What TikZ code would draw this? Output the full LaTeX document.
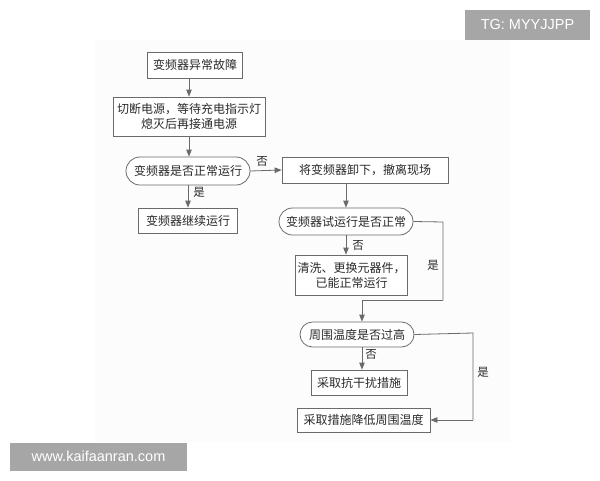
\documentclass[tikz,border=0pt]{standalone}
\usepackage{fontspec}
\setmainfont{Liberation Sans}
\newfontfamily\cjk{Noto Sans CJK SC}
\usepackage{tikz}
\usetikzlibrary{shapes.misc,arrows.meta}

\definecolor{linegray}{HTML}{6A6A6A}
\definecolor{textgray}{HTML}{2A2A2A}
\definecolor{markgray}{HTML}{A6A6A6}
\tikzset{
  box/.style={draw=linegray, line width=0.8pt, fill=white, text=textgray, font=\cjk\fontsize{12}{15}\selectfont, inner sep=2pt, align=center},
  stadium/.style={box, rounded rectangle},
  arr/.style={draw=linegray, line width=0.8pt, -{Triangle[length=7pt,width=5.5pt]}},
  lbl/.style={text=textgray, font=\cjk\fontsize{11.5}{13}\selectfont, inner sep=1pt},
  stamp/.style={fill=markgray, text=white, font=\fontsize{14.5}{16}\selectfont}
}

\begin{document}
\begin{tikzpicture}[x=1pt,y=-1pt]
\useasboundingbox (0,0) rectangle (600,480);
\fill[black!1] (95,40) rectangle (510,442);

% flow chart
\node[box, minimum width=95pt, minimum height=26pt] (fault) at (195,65) {变频器异常故障};
\node[box, minimum width=152pt, minimum height=39pt] (power) at (189,116.5) {切断电源，等待充电指示灯\\熄灭后再接通电源};
\node[stadium, minimum width=128pt, minimum height=28pt] (run) at (188,171) {变频器是否正常运行};
\node[box, minimum width=166pt, minimum height=26pt] (remove) at (365,170) {将变频器卸下，撤离现场};
\node[box, minimum width=99pt, minimum height=25pt] (keep) at (188,220.5) {变频器继续运行};
\node[stadium, minimum width=138pt, minimum height=27pt] (trial) at (346,221.5) {变频器试运行是否正常};
\node[box, minimum width=107pt, minimum height=40pt] (clean) at (351.5,275) {清洗、更换元器件，\\已能正常运行};
\node[stadium, minimum width=118pt, minimum height=25pt] (temp) at (357,334.5) {周围温度是否过高};
\node[box, minimum width=96pt, minimum height=25pt] (noise) at (359,382.5) {采取抗干扰措施};
\node[box, minimum width=133pt, minimum height=24pt] (cool) at (363.5,420) {采取措施降低周围温度};

\coordinate (c1) at (443,222);
\coordinate (c2) at (443,300);
\coordinate (c3) at (473,333);
\coordinate (c4) at (473,420);

% connectors
\draw[arr] (fault.south -| power) -- (power.north);
\draw[arr] (power.south) -- (power.south |- run.north);
\draw[arr] (run.east) -- (remove.west);
\draw[arr] (run.south) -- (keep.north);
\draw[arr] (remove.south -| trial) -- (trial.north);
\draw[arr] (trial.south) -- (trial.south |- clean.north);
\draw[linegray, line width=0.8pt] (trial.east) -- (c1) -- (c2);
\draw[arr] (c2) -| ([xshift=5pt]temp.north);
\draw[arr] ([xshift=5pt]temp.south) -- ([xshift=5pt]temp.south |- noise.north);
\draw[linegray, line width=0.8pt] (temp.east) -- (c3) -- (c4);
\draw[arr] (c4) -- (cool.east);

% labels
\node[lbl] (no1) at (262,161) {否};
\node[lbl] (yes1) at (199,192) {是};
\node[lbl] (no2) at (358,245) {否};
\node[lbl] (yes2) at (433,265) {是};
\node[lbl] (no3) at (371,354) {否};
\node[lbl] (yes3) at (483,372) {是};

% watermarks
\node[stamp, minimum width=125pt, minimum height=30pt] (tg) at (527.5,25) {TG: MYYJJPP};
\node[stamp, minimum width=177pt, minimum height=28pt] (web) at (98.5,456.5) {www.kaifaanran.com};
\end{tikzpicture}
\end{document}
